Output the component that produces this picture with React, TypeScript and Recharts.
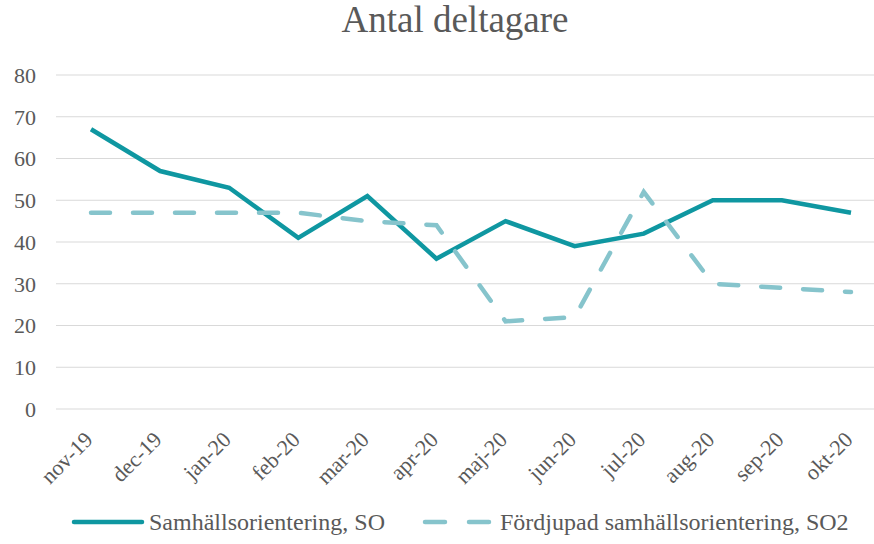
import { LineChart, Line, XAxis, YAxis, CartesianGrid, Legend } from "recharts"

const months = ["nov-19", "dec-19", "jan-20", "feb-20", "mar-20", "apr-20", "maj-20", "jun-20", "jul-20", "aug-20", "sep-20", "okt-20"]
const so = [67, 57, 53, 41, 51, 36, 45, 39, 42, 50, 50, 47]
const so2 = [47, 47, 47, 47, 45, 44, 21, 22, 52, 30, 29, 28]
const yTicks = [0, 10, 20, 30, 40, 50, 60, 70, 80]

const FONT = '"Liberation Serif", "Times New Roman", serif'
const TEXT = "#595959"
const C_SO = "#0F97A1"
const C_SO2 = "#86C4CC"
const DASH = "19 23"

const data = months.map((m, i) => ({ month: m, so: so[i], so2: so2[i] }))

function XTick({ x, y, payload }: any) {
  return (
    <text
      x={0}
      y={0}
      transform={`translate(${x + 3},${y + 32}) rotate(-45)`}
      textAnchor="end"
      fill={TEXT}
      fontSize={22}
      fontFamily={FONT}
    >
      {payload.value}
    </text>
  )
}

function LegendBox() {
  const item = (label: string, color: string, dashed: boolean) => (
    <div style={{ display: "flex", alignItems: "center", marginRight: 37 }}>
      <svg width={74} height={10} style={{ marginRight: 4 }}>
        <line
          x1={3}
          y1={5}
          x2={71}
          y2={5}
          stroke={color}
          strokeWidth={4.5}
          strokeLinecap="round"
          strokeDasharray={dashed ? "20 24" : undefined}
        />
      </svg>
      <span>{label}</span>
    </div>
  )
  return (
    <div
      style={{
        height: 44,
        display: "flex",
        alignItems: "center",
        paddingLeft: 71,
        fontFamily: FONT,
        fontSize: 24,
        color: TEXT,
        whiteSpace: "nowrap",
      }}
    >
      {item("Samhällsorientering, SO", C_SO, false)}
      {item("Fördjupad samhällsorientering, SO2", C_SO2, true)}
    </div>
  )
}

export default function App() {
  return (
    <div style={{ position: "absolute", left: 0, top: 0, width: 874, height: 544, background: "#fff" }}>
      <div
        style={{
          position: "absolute",
          left: 455,
          top: 1,
          transform: "translateX(-50%)",
          fontFamily: FONT,
          fontSize: 37,
          lineHeight: "37px",
          color: TEXT,
          whiteSpace: "nowrap",
        }}
      >
        Antal deltagare
      </div>
      <LineChart width={874} height={544} data={data} margin={{ top: 75, right: 0, left: 0, bottom: 0 }}>
        <CartesianGrid vertical={false} stroke="#D9D9D9" strokeWidth={1.2} />
        <XAxis
          dataKey="month"
          axisLine={false}
          tickLine={false}
          tickSize={0}
          tickMargin={0}
          height={91}
          interval={0}
          padding={{ left: 35, right: 23 }}
          tick={<XTick />}
        />
        <YAxis
          domain={[0, 80]}
          ticks={yTicks}
          axisLine={false}
          tickLine={false}
          tickSize={0}
          tickMargin={20}
          width={56}
          tick={{ fill: TEXT, fontSize: 22, fontFamily: FONT }}
        />
        <Legend verticalAlign="bottom" content={<LegendBox />} />
        <Line
          type="linear"
          dataKey="so"
          name="Samhällsorientering, SO"
          stroke={C_SO}
          strokeWidth={4.5}
          dot={false}
          isAnimationActive={false}
        />
        <Line
          type="linear"
          dataKey="so2"
          name="Fördjupad samhällsorientering, SO2"
          stroke={C_SO2}
          strokeWidth={4.5}
          strokeDasharray={DASH}
          strokeLinecap="round"
          dot={false}
          isAnimationActive={false}
        />
      </LineChart>
    </div>
  )
}
